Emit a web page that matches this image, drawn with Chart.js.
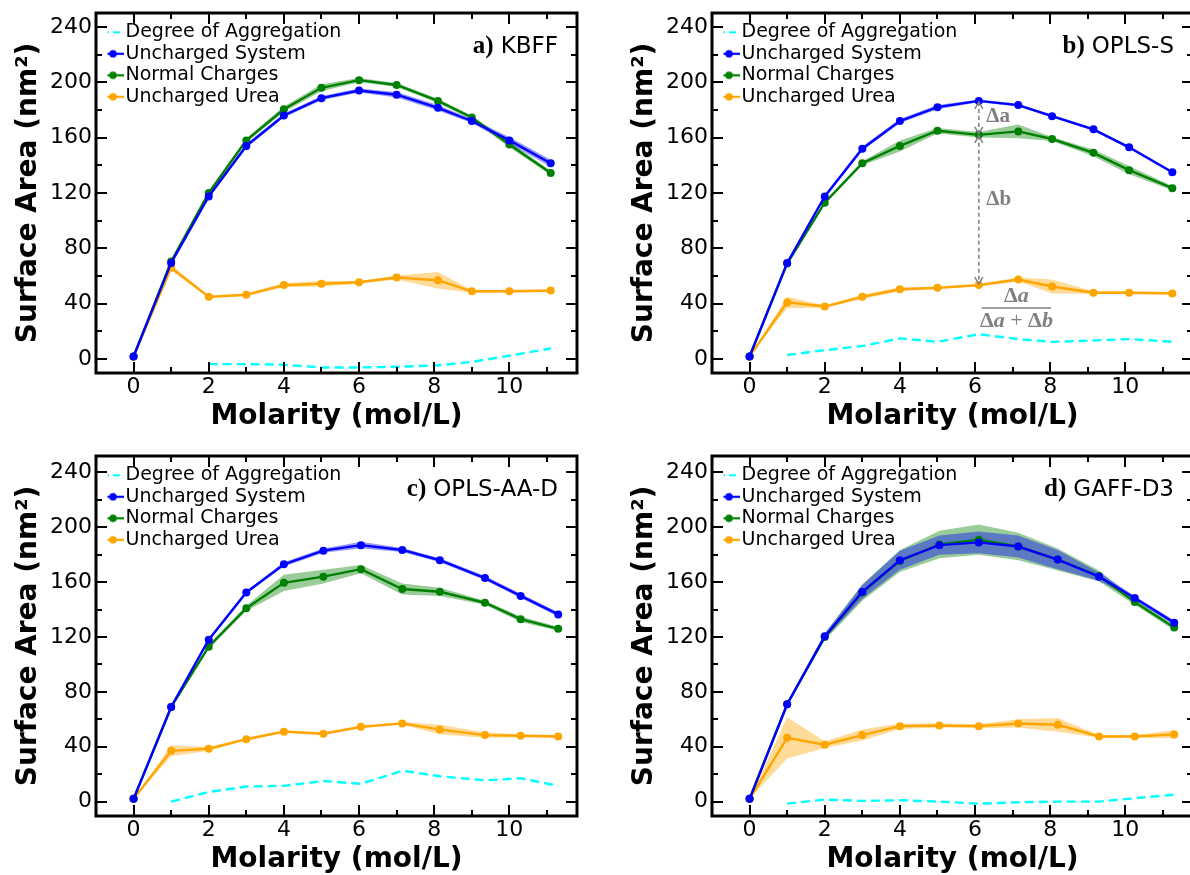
<!DOCTYPE html>
<html>
<head>
<meta charset="utf-8">
<title>Surface area vs molarity</title>
<script src="https://cdn.jsdelivr.net/npm/chart.js@4.4.1/dist/chart.umd.min.js"></script>
<style>
  html, body { margin: 0; padding: 0; background: #fff; width: 1190px; height: 875px; overflow: hidden; }
  canvas { position: absolute; }
</style>
</head>
<body>
<canvas id="panelA" width="595" height="437" style="left:0px;top:0px"></canvas>
<canvas id="panelB" width="595" height="437" style="left:616px;top:0px"></canvas>
<canvas id="panelC" width="595" height="437" style="left:0px;top:443px"></canvas>
<canvas id="panelD" width="595" height="437" style="left:616px;top:443px"></canvas>
<script>
// ---- series names and tick labels ----
const seriesNames = ['Degree of Aggregation', 'Uncharged System', 'Normal Charges', 'Uncharged Urea'];
const xTickValues = [0, 2, 4, 6, 8, 10];
const yTickValues = [0, 40, 80, 120, 160, 200, 240];

// ---- a) KBFF ----
const molarityA   = [0, 1, 2, 3, 4, 5, 6, 7, 8.1, 9, 10, 11.1];
const aggA        = [null, null, -3.6, -3.6, -4, -6, -6, -5.5, -4.5, -2, 2.5, 7.7];
const unchSysA    = [2, 69.5, 117.5, 154, 176, 188.5, 194, 191, 181.5, 172, 158, 141.5];
const normalA     = [2, 70.5, 120, 158, 180.5, 196, 201.5, 198, 186.5, 174.5, 155, 134.5];
const unchUreaA   = [2, 66, 45, 46.5, 53.5, 54.5, 55.5, 59, 57, 49, 49, 49.5];
const unchSysErrA = [0, 1, 1, 1.5, 1.5, 1.5, 1.5, 2, 2, 1.5, 2.5, 2.5];
const normalErrA  = [0, 1, 1.5, 1.5, 2, 2.5, 1.5, 1.5, 1.5, 1.5, 2, 1.5];
const unchUreaErrA= [0, 2, 1, 1, 1.5, 2, 1, 1.5, 6, 1, 1, 1];

// ---- b) OPLS-S ----
const molarityB   = [0, 1, 2, 3, 4, 5, 6.1, 7.15, 8.05, 9.15, 10.1, 11.25];
const aggB        = [null, 3, 6.5, 9.5, 15, 12.5, 18, 14.5, 12.5, 13.5, 14.5, 12.5];
const unchSysB    = [2, 69.5, 117.5, 152, 172, 182, 186.5, 183.5, 175.5, 166, 153, 135];
const normalB     = [2, 69, 113, 141.5, 154, 165, 162, 164.5, 159, 149, 136.5, 123.5];
const unchUreaB   = [2, 41, 38, 45, 50.5, 51.5, 53.5, 57.5, 52.5, 48, 48, 47.5];
const unchSysErrB = [0, 1, 1, 1.5, 1.5, 1.5, 1, 1, 1, 1, 1, 1];
const normalErrB  = [0, 1, 1, 1.5, 4, 2, 2, 5, 1.5, 2.5, 3, 1.5];
const unchUreaErrB= [0, 4, 1, 1.5, 1.5, 1, 1, 1.5, 5, 1, 1, 1];

// ---- c) OPLS-AA-D ----
const molarityC   = [0, 1, 2, 3, 4, 5.05, 6.05, 7.15, 8.15, 9.35, 10.3, 11.3];
const aggC        = [null, 0, 7, 11, 11.5, 15, 13, 22.5, 18.5, 15.5, 17, 11.5];
const unchSysC    = [2, 69, 118, 152.5, 173, 183, 187, 183.5, 176, 163, 150, 136.5];
const normalC     = [2, 69, 113, 141, 159.5, 164, 169.5, 155, 153, 145, 133, 126];
const unchUreaC   = [2, 37, 38.5, 45.5, 51, 49.5, 54.5, 57, 52.5, 48.5, 48, 47.5];
const unchSysErrC = [0, 1, 1, 1, 1.5, 1.5, 2.5, 1.5, 1.5, 1.5, 1.5, 1.5];
const normalErrC  = [0, 1, 1.5, 2, 6, 5, 3, 4, 3, 1.5, 2, 1.5];
const unchUreaErrC= [0, 4, 1.5, 1, 1, 1, 1, 1, 3.5, 2, 1, 1];

// ---- d) GAFF-D3 ----
const molarityD   = [0, 1, 2, 3, 4, 5.05, 6.1, 7.15, 8.2, 9.3, 10.25, 11.3];
const aggD        = [null, -1.5, 1.5, 0.5, 1, 0, -1.5, -0.5, 0, 0, 2.5, 5];
const unchSysD    = [2, 71, 120.5, 153, 176, 187, 189, 186, 176.5, 164, 148.5, 130.5];
const normalD     = [2, 71, 120, 152.5, 175.5, 187.5, 191, 186, 176.5, 164.5, 145.5, 127];
const unchUreaD   = [2, 46.5, 41.5, 48.5, 55, 55.5, 55, 57, 56, 47.5, 47.5, 49];
const unchSysErrD = [0, 1, 2, 5, 7, 7, 8, 8, 7, 3, 1.5, 1.5];
const normalErrD  = [0, 1, 2.5, 6, 8, 10, 11, 10, 8, 4, 2, 2];
const unchUreaErrD= [0, 15, 2.5, 4, 2, 1.5, 1.5, 3, 5, 1, 1, 3];

// ---- styling ----
const C_AGG = '#00ffff', C_SYS = '#0000ff', C_CHG = '#008000', C_UREA = '#ffa500';
const BAND = { sys: 'rgba(0,0,255,0.4)', chg: 'rgba(0,128,0,0.4)', urea: 'rgba(255,165,0,0.4)' };
const GRAY = '#808080';

Chart.defaults.font.family = "'DejaVu Sans', sans-serif";
Chart.defaults.color = '#000';

function points(xs, ys) {
  const out = [];
  xs.forEach((x, i) => { if (ys[i] !== null && ys[i] !== undefined) out.push({ x: x, y: ys[i] }); });
  return out;
}
function shifted(ys, err, sign) { return ys.map((v, i) => v + sign * err[i]); }

// small line+marker glyphs for the legend
function legendGlyph(color, dashed) {
  const c = document.createElement('canvas');
  c.width = 22; c.height = 10;
  const g = c.getContext('2d');
  g.strokeStyle = color; g.lineWidth = 2.2;
  if (dashed) g.setLineDash([7, 4]);
  g.beginPath(); g.moveTo(0, 5); g.lineTo(22, 5); g.stroke();
  if (!dashed) { g.fillStyle = color; g.beginPath(); g.arc(11, 5, 3.8, 0, Math.PI * 2); g.fill(); }
  return c;
}
const glyphs = [legendGlyph(C_AGG, true), legendGlyph(C_SYS, false), legendGlyph(C_CHG, false), legendGlyph(C_UREA, false)];

// box frame with inward major/minor ticks on all four sides
const framePlugin = {
  id: 'frame',
  afterDatasetsDraw(chart) {
    const { ctx, chartArea: a, scales: { x, y } } = chart;
    ctx.save();
    ctx.strokeStyle = '#000';
    ctx.lineWidth = 2;
    const seg = (x1, y1, x2, y2) => { ctx.beginPath(); ctx.moveTo(x1, y1); ctx.lineTo(x2, y2); ctx.stroke(); };
    for (let v = Math.ceil(x.min); v <= x.max; v += 1) {
      if (v === x.min) continue;
      const L = (v % 2 === 0) ? 11 : 6;
      const p = Math.round(x.getPixelForValue(v));
      seg(p, a.bottom, p, a.bottom - L);
      seg(p, a.top, p, a.top + L);
    }
    for (let v = Math.ceil(y.min / 20) * 20; v <= y.max; v += 20) {
      const L = (v % 40 === 0) ? 11 : 6;
      const p = Math.round(y.getPixelForValue(v));
      seg(a.left, p, a.left + L, p);
      seg(a.right, p, a.right - L, p);
    }
    ctx.lineWidth = 3;
    ctx.strokeRect(a.left, a.top, a.right - a.left, a.bottom - a.top);
    ctx.restore();
  }
};

// legend sits inside the plot, top-left
const legendPlace = {
  id: 'legendPlace',
  afterLayout(chart) {
    const lg = chart.legend;
    if (!lg) return;
    const a = chart.chartArea;
    lg.left = a.left + 11.5;
    lg.top = a.top + 7.3;
    lg.right = a.right;
    lg.bottom = a.bottom;
  }
};

// panel label, e.g. "a) KBFF"
const panelLabel = {
  id: 'panelLabel',
  afterDraw(chart, args, opts) {
    if (!opts || !opts.tag) return;
    const { ctx, chartArea: a } = chart;
    ctx.save();
    const tagFont = 'bold 25px "Liberation Serif", serif';
    const nameFont = '23px "DejaVu Sans", sans-serif';
    ctx.font = tagFont; const wTag = ctx.measureText(opts.tag).width;
    ctx.font = nameFont; const wName = ctx.measureText(opts.name).width;
    const gap = 7;
    const right = a.right - 19;
    const base = a.top + 40;
    ctx.fillStyle = '#000';
    ctx.textBaseline = 'alphabetic';
    ctx.textAlign = 'left';
    ctx.font = tagFont; ctx.fillText(opts.tag, right - wName - gap - wTag, base);
    ctx.font = nameFont; ctx.fillText(opts.name, right - wName, base);
    ctx.restore();
  }
};

// Δa / Δb construction on the OPLS-S panel
function runsWidth(ctx, runs) {
  let w = 0;
  runs.forEach(r => { ctx.font = r[1]; w += ctx.measureText(r[0]).width; });
  return w;
}
function drawRuns(ctx, runs, cx, cy) {
  let x = cx - runsWidth(ctx, runs) / 2;
  ctx.textAlign = 'left'; ctx.textBaseline = 'middle';
  runs.forEach(r => { ctx.font = r[1]; ctx.fillText(r[0], x, cy); x += ctx.measureText(r[0]).width; });
}
function dashedArrow(ctx, x, y1, y2) {
  ctx.save();
  ctx.setLineDash([4, 3]);
  ctx.beginPath(); ctx.moveTo(x, y1); ctx.lineTo(x, y2); ctx.stroke();
  ctx.setLineDash([]);
  const head = (ty, dir) => {
    ctx.beginPath();
    ctx.moveTo(x - 4, ty + dir * 7); ctx.lineTo(x, ty); ctx.lineTo(x + 4, ty + dir * 7);
    ctx.stroke();
  };
  head(y1, 1); head(y2, -1);
  ctx.restore();
}
const deltaNotes = {
  id: 'deltaNotes',
  afterDatasetsDraw(chart, args, opts) {
    if (!opts || !opts.show) return;
    const { ctx, scales: { x, y } } = chart;
    const i = opts.index;
    const px = x.getPixelForValue(opts.mol[i]);
    const yTop = y.getPixelForValue(opts.top[i]);
    const yMid = y.getPixelForValue(opts.mid[i]);
    const yBot = y.getPixelForValue(opts.bot[i]);
    ctx.save();
    ctx.strokeStyle = GRAY; ctx.fillStyle = GRAY; ctx.lineWidth = 1.5;
    dashedArrow(ctx, px, yTop + 1, yMid - 1);
    dashedArrow(ctx, px, yMid + 1, yBot - 1);
    const bold = 'bold 21px "Liberation Serif", serif';
    const boldIt = 'bold italic 22px "Liberation Serif", serif';
    const boldF = 'bold 22px "Liberation Serif", serif';
    const plain = '22px "Liberation Serif", serif';
    ctx.font = bold; ctx.textAlign = 'left'; ctx.textBaseline = 'middle';
    opts.labels.forEach(l => ctx.fillText(l.text, x.getPixelForValue(l.x), y.getPixelForValue(l.y)));
    const f = opts.fraction;
    const fx = x.getPixelForValue(f.x);
    drawRuns(ctx, [['Δ', boldF], ['a', boldIt]], fx, y.getPixelForValue(f.num));
    drawRuns(ctx, [['Δ', boldF], ['a', boldIt], [' + ', plain], ['Δ', boldF], ['b', boldIt]], fx, y.getPixelForValue(f.den));
    ctx.lineWidth = 1.5;
    ctx.beginPath();
    ctx.moveTo(x.getPixelForValue(f.x0), y.getPixelForValue(f.bar));
    ctx.lineTo(x.getPixelForValue(f.x1), y.getPixelForValue(f.bar));
    ctx.stroke();
    ctx.restore();
  }
};

function lineSet(label, xs, ys, color, dashed) {
  return {
    label: label, data: points(xs, ys),
    borderColor: color, backgroundColor: color,
    borderWidth: 2.4, borderDash: dashed ? [9, 5] : [],
    pointRadius: dashed ? 0 : 4, pointBorderWidth: 0, pointHoverRadius: 0,
    fill: false, tension: 0
  };
}
function bandPair(xs, ys, err, color) {
  return [
    { label: '', data: points(xs, shifted(ys, err, 1)), borderWidth: 0, pointRadius: 0, fill: false },
    { label: '', data: points(xs, shifted(ys, err, -1)), borderWidth: 0, pointRadius: 0, backgroundColor: color, fill: '-1' }
  ];
}

function makePanel(id, p) {
  const datasets = [
    lineSet(seriesNames[0], p.mol, p.agg, C_AGG, true),
    lineSet(seriesNames[1], p.mol, p.sys, C_SYS, false),
    lineSet(seriesNames[2], p.mol, p.chg, C_CHG, false),
    lineSet(seriesNames[3], p.mol, p.urea, C_UREA, false),
    ...bandPair(p.mol, p.sys, p.sysErr, BAND.sys),
    ...bandPair(p.mol, p.chg, p.chgErr, BAND.chg),
    ...bandPair(p.mol, p.urea, p.ureaErr, BAND.urea)
  ];
  return new Chart(document.getElementById(id), {
    type: 'line',
    data: { datasets: datasets },
    plugins: [framePlugin, legendPlace, panelLabel, deltaNotes],
    options: {
      responsive: false, animation: false, devicePixelRatio: 1,
      layout: { autoPadding: false, padding: { left: 0, top: 13, right: 18, bottom: 0 } },
      events: [],
      scales: {
        x: {
          type: 'linear', min: -1, max: 11.8,
          afterBuildTicks: s => { s.ticks = xTickValues.map(v => ({ value: v })); },
          afterFit: s => { s.height = 64; s.paddingLeft = 0; s.paddingRight = 0; },
          grid: { display: false, drawTicks: false }, border: { display: false },
          ticks: { font: { size: 22 }, color: '#000', padding: 1, maxRotation: 0 },
          title: { display: true, text: 'Molarity (mol/L)', color: '#000', font: { size: 28, weight: 'bold' }, padding: { top: 0, bottom: 3 } }
        },
        y: {
          type: 'linear', min: p.yMin, max: p.yMax,
          afterBuildTicks: s => { s.ticks = yTickValues.map(v => ({ value: v })); },
          afterFit: s => { s.width = 96; s.paddingTop = 0; s.paddingBottom = 0; },
          grid: { display: false, drawTicks: false }, border: { display: false },
          ticks: { font: { size: 22 }, color: '#000', padding: 4 },
          title: { display: true, text: 'Surface Area (nm²)', color: '#000', font: { size: 28, weight: 'bold' }, padding: { top: 12, bottom: 0 } }
        }
      },
      plugins: {
        legend: {
          position: 'chartArea', align: 'start',
          labels: {
            usePointStyle: true, pointStyleWidth: 6, padding: 2.5,
            font: { size: 19 }, color: '#000',
            filter: item => item.datasetIndex < 4,
            generateLabels: chart => {
              const items = Chart.defaults.plugins.legend.labels.generateLabels(chart);
              items.forEach(it => { if (it.datasetIndex < 4) it.pointStyle = glyphs[it.datasetIndex]; });
              return items;
            }
          }
        },
        tooltip: { enabled: false },
        panelLabel: { tag: p.tag, name: p.name },
        deltaNotes: p.notes || { show: false }
      }
    }
  });
}

makePanel('panelA', { tag: 'a)', name: 'KBFF', mol: molarityA, agg: aggA, sys: unchSysA, chg: normalA, urea: unchUreaA,
  sysErr: unchSysErrA, chgErr: normalErrA, ureaErr: unchUreaErrA, yMin: -10, yMax: 250 });

makePanel('panelB', { tag: 'b)', name: 'OPLS-S', mol: molarityB, agg: aggB, sys: unchSysB, chg: normalB, urea: unchUreaB,
  sysErr: unchSysErrB, chgErr: normalErrB, ureaErr: unchUreaErrB, yMin: -10, yMax: 250,
  notes: { show: true, index: 6, mol: molarityB, top: unchSysB, mid: normalB, bot: unchUreaB,
    labels: [{ text: 'Δa', x: 6.3, y: 175 }, { text: 'Δb', x: 6.3, y: 115 }],
    fraction: { x: 7.1, num: 45.5, bar: 37, den: 27.5, x0: 6.18, x1: 8.02 } } });

makePanel('panelC', { tag: 'c)', name: 'OPLS-AA-D', mol: molarityC, agg: aggC, sys: unchSysC, chg: normalC, urea: unchUreaC,
  sysErr: unchSysErrC, chgErr: normalErrC, ureaErr: unchUreaErrC, yMin: -10.5, yMax: 252 });

makePanel('panelD', { tag: 'd)', name: 'GAFF-D3', mol: molarityD, agg: aggD, sys: unchSysD, chg: normalD, urea: unchUreaD,
  sysErr: unchSysErrD, chgErr: normalErrD, ureaErr: unchUreaErrD, yMin: -10.5, yMax: 252 });
</script>
</body>
</html>
